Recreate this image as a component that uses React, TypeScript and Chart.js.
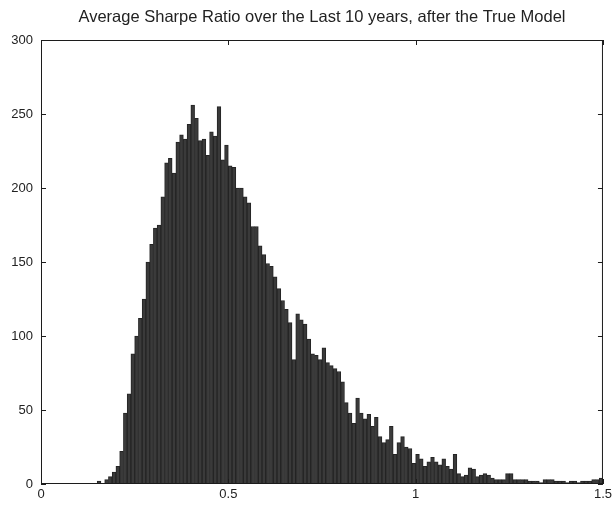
import React, { useEffect, useRef } from "react";
import { Chart, registerables } from "chart.js";

Chart.register(...registerables);

// Histogram of average Sharpe ratios: bin width 0.01, bins from 0.00 to 1.50
const BIN_WIDTH = 0.01;
const counts = [
  0, 0, 0, 0, 0, 0, 0, 0, 0, 0,
  0, 0, 0, 0, 0, 2, 0, 3, 5, 8,
  12, 22, 48, 61, 88, 100, 112, 125, 150, 162,
  173, 175, 194, 217, 220, 210, 231, 236, 233, 243,
  256, 247, 232, 233, 222, 238, 235, 255, 219, 229,
  215, 214, 200, 200, 194, 190, 174, 174, 161, 155,
  149, 147, 140, 132, 124, 118, 109, 84, 115, 111,
  108, 98, 88, 87, 84, 92, 82, 80, 78, 76,
  69, 55, 48, 41, 58, 48, 44, 47, 39, 45,
  32, 28, 30, 39, 20, 28, 32, 25, 24, 14,
  20, 17, 12, 15, 18, 15, 13, 17, 12, 10,
  20, 7, 5, 6, 11, 10, 5, 6, 7, 6,
  4, 3, 3, 3, 7, 7, 3, 3, 3, 3,
  2, 2, 2, 1, 3, 3, 3, 2, 2, 2,
  1, 2, 2, 1, 2, 2, 2, 3, 3, 4,
];
const binCenters = counts.map((_, i) => (i + 0.5) * BIN_WIDTH);
const xTicks = [0, 0.5, 1, 1.5];
const yTicks = [0, 50, 100, 150, 200, 250, 300];
const titleText = "Average Sharpe Ratio over the Last 10 years, after the True Model";

const FONT = "'Liberation Sans', Arial, sans-serif";

const framePlugin = {
  id: "matlabFrame",
  afterDatasetsDraw(chart: any) {
    const { ctx, chartArea: a, scales } = chart;
    const xs = scales.x;
    const ys = scales.y;
    ctx.save();
    ctx.strokeStyle = "#1c1c1c";
    ctx.lineWidth = 1;
    ctx.strokeRect(a.left + 0.5, a.top + 0.5, a.right - a.left - 1, a.bottom - a.top - 1);
    const L = 5;
    ctx.beginPath();
    for (const v of xTicks) {
      const px = Math.round(xs.getPixelForValue(v)) + 0.5;
      ctx.moveTo(px, a.bottom);
      ctx.lineTo(px, a.bottom - L);
      ctx.moveTo(px, a.top);
      ctx.lineTo(px, a.top + L);
    }
    for (const v of yTicks) {
      const py = Math.round(ys.getPixelForValue(v)) + 0.5;
      ctx.moveTo(a.left, py);
      ctx.lineTo(a.left + L, py);
      ctx.moveTo(a.right, py);
      ctx.lineTo(a.right - L, py);
    }
    ctx.stroke();
    ctx.restore();
  },
};

export default function App() {
  const canvasRef = useRef<HTMLCanvasElement | null>(null);

  useEffect(() => {
    document.body.style.margin = "0";
    document.body.style.background = "#ffffff";
    const canvas = canvasRef.current;
    if (!canvas) return;
    const chart = new Chart(canvas, {
      type: "bar",
      data: {
        datasets: [
          {
            data: binCenters.map((x, i) => ({ x, y: counts[i] })),
            backgroundColor: "#3a3a3a",
            borderColor: "#242424",
            borderWidth: 1,
            borderSkipped: "start",
            barPercentage: 1,
            categoryPercentage: 1,
          },
        ],
      },
      options: {
        animation: false,
        responsive: true,
        maintainAspectRatio: false,
        layout: { padding: { left: 0, right: 12, top: 0, bottom: 0 } },
        plugins: {
          legend: { display: false },
          tooltip: { enabled: false },
          title: {
            display: true,
            fullSize: false,
            text: titleText,
            color: "#222222",
            font: { family: FONT, size: 16.5, weight: "normal" },
            padding: { top: 7.6, bottom: 12.6 },
          },
        },
        scales: {
          x: {
            type: "linear",
            min: 0,
            max: 1.5,
            offset: false,
            grid: { display: false, drawTicks: false },
            border: { display: false },
            ticks: {
              stepSize: 0.5,
              autoSkip: false,
              maxRotation: 0,
              padding: 3,
              color: "#222222",
              font: { family: FONT, size: 13 },
              callback: (v: any) => String(Number(v)),
            },
            afterFit: (s: any) => {
              s.height = 22;
            },
          },
          y: {
            min: 0,
            max: 300,
            grid: { display: false, drawTicks: false },
            border: { display: false },
            ticks: {
              stepSize: 50,
              padding: 8,
              color: "#222222",
              font: { family: FONT, size: 13 },
            },
            afterFit: (s: any) => {
              s.width = 41;
            },
          },
        },
      },
      plugins: [framePlugin],
    });
    return () => chart.destroy();
  }, []);

  return (
    <div style={{ position: "absolute", left: 0, top: 0, width: 615, height: 506, background: "#fff" }}>
      <canvas ref={canvasRef} />
    </div>
  );
}
